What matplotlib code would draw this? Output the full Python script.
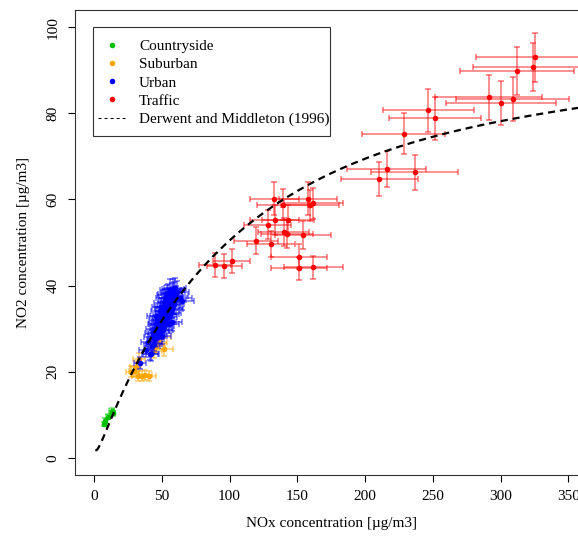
import numpy as np
import matplotlib
matplotlib.use("Agg")
import matplotlib.pyplot as plt
from matplotlib.lines import Line2D
from matplotlib.patches import Rectangle

plt.rcParams['font.family'] = ['Liberation Serif', 'DejaVu Serif']

# concentrations, ug/m3
countryside_nox = [7.6, 8.2, 10.4, 13.1, 13.9]
countryside_no2 = [7.8, 8.6, 9.5, 10.9, 10.3]

suburban_nox = [27.5, 29.5, 30.8, 32.2, 33.0, 35.7, 38.0, 40.4, 44.5, 47.7, 49.9, 51.3, 46.0]
suburban_no2 = [20.0, 20.1, 21.1, 19.0, 22.9, 18.9, 19.2, 18.9, 24.8, 27.0, 28.0, 25.2, 26.0]

urban_nox = [34.0, 38.2, 40.1, 41.3, 42.0, 42.6, 43.4, 44.1, 44.7, 45.2,
             45.8, 46.3, 46.9, 47.2, 47.6, 47.9, 48.3, 48.6, 48.8, 49.2,
             49.5, 49.9, 50.2, 50.5, 50.8, 51.1, 51.4, 51.7, 52.0, 52.3,
             52.6, 53.0, 53.3, 53.6, 54.0, 54.3, 54.6, 55.0, 55.3, 55.6,
             56.0, 56.3, 56.6, 57.0, 57.3, 57.7, 58.0, 58.4, 58.8, 59.2,
             59.7, 60.1, 60.8, 61.5, 50.0, 52.4, 47.0, 45.5, 55.4, 57.5,
             63.5, 65.0, 42.8, 53.8]
urban_no2 = [22.0, 25.0, 27.0, 24.2, 24.0, 28.0, 29.0, 26.5, 30.0, 27.5,
             31.0, 29.2, 32.0, 28.3, 30.2, 33.0, 31.2, 34.0, 29.5, 32.2,
             35.0, 30.4, 28.2, 33.2, 31.4, 29.6, 36.0, 32.4, 30.6, 34.2,
             37.0, 31.6, 33.4, 35.2, 32.6, 36.2, 38.0, 34.4, 31.0, 37.2,
             35.4, 39.0, 33.6, 36.4, 38.2, 34.6, 37.4, 39.2, 35.6, 38.4,
             36.6, 39.4, 37.6, 38.6, 32.0, 35.0, 31.0, 33.0, 33.5, 31.5,
             37.0, 36.5, 26.0, 37.8]

traffic_nox = [325.6, 323.7, 312.2, 291.2, 300.2, 309.0, 246.8, 251.7, 228.5, 210.5,
               216.0, 236.7, 89.4, 96.3, 101.7, 119.4, 128.2, 130.9, 133.1, 133.3,
               139.4, 139.9, 143.2, 142.6, 154.3, 158.1, 159.3, 161.7, 151.4, 151.4,
               161.9]
traffic_no2 = [93.0, 90.8, 89.8, 83.7, 82.5, 83.3, 80.7, 78.8, 75.3, 64.7,
               67.0, 66.3, 44.7, 44.6, 45.7, 50.4, 54.1, 49.7, 60.2, 55.2,
               58.8, 52.5, 55.3, 52.0, 51.7, 60.2, 58.6, 59.1, 46.7, 44.0,
               44.2]

# measurement uncertainty, relative
rel_err_nox = 0.135
rel_err_no2 = 0.062

groups = [
    ("Countryside", "#00c000", countryside_nox, countryside_no2),
    ("Suburban", "#ffa500", suburban_nox, suburban_no2),
    ("Urban", "#0000ff", urban_nox, urban_no2),
    ("Traffic", "#ff0000", traffic_nox, traffic_no2),
]


def derwent_middleton(nox_ug, f=1.91):
    # Derwent & Middleton (1996), works in ppb
    nox = np.asarray(nox_ug) / f
    a = np.log10(nox)
    no2 = 2.166 - nox * (1.236 - 3.348 * a + 1.933 * a ** 2 - 0.326 * a ** 3)
    return no2 * f


fig = plt.figure(figsize=(5.78, 5.37), dpi=100)
ax = fig.add_axes([0.1298, 0.1155, 0.8862, 0.8659])

for name, col, x, y in groups:
    x = np.array(x)
    y = np.array(y)
    ax.errorbar(x, y, xerr=rel_err_nox * x, yerr=rel_err_no2 * y, fmt='none',
                ecolor=col, elinewidth=1.1, capsize=2.2, capthick=1.1, alpha=0.55)
    ax.plot(x, y, 'o', color=col, ms=4, mec='none')

xc = np.linspace(1, 375, 500)
ax.plot(xc, derwent_middleton(xc), color='black', lw=1.6, dashes=(3.2, 2.2))

ax.set_xlim(-14, 364)
ax.set_ylim(-4, 104)
ax.set_xticks(np.arange(0, 351, 50))
ax.set_yticks(np.arange(0, 101, 20))
ax.tick_params(direction='out', length=5, width=0.8, labelsize=11, pad=6)
for lab in ax.get_yticklabels():
    lab.set_rotation(90)
    lab.set_va('center')
for s in ax.spines.values():
    s.set_linewidth(0.8)
    s.set_color('#333333')

ax.set_xlabel("NOx concentration [µg/m3]", fontsize=11, labelpad=10)
ax.set_ylabel("NO2 concentration [µg/m3]", fontsize=11, labelpad=12)

# legend box drawn by hand, R style (tight on the right)
ax.add_patch(Rectangle((0.0351, 0.729), 0.4627, 0.235, transform=ax.transAxes,
                       facecolor='white', edgecolor='#333333', lw=0.8, zorder=4))
handles = [Line2D([], [], ls='none', marker='o', ms=4, mec='none', color=c) for _, c, _, _ in groups]
handles.append(Line2D([], [], color='black', lw=0.75, dashes=(2.9, 2.9)))
labels = [g[0] for g in groups] + ["Derwent and Middleton (1996)"]
leg = ax.legend(handles, labels, loc='upper left', bbox_to_anchor=(0.0449, 0.937),
                fontsize=11, frameon=False, handlelength=1.77, labelspacing=0.3,
                borderpad=0, borderaxespad=0, handletextpad=0.92)
leg.set_zorder(5)

fig.savefig("out.png", dpi=100)
